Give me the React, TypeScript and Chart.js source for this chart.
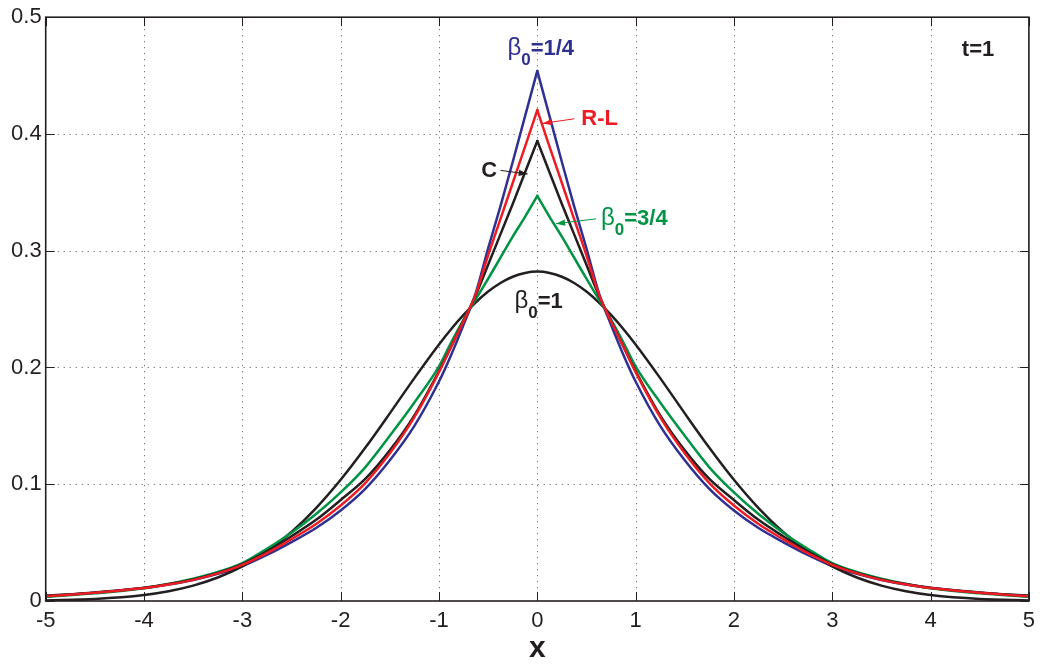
import React, { useEffect, useRef } from "react";
import { Chart, registerables } from "chart.js";

Chart.register(...registerables);

// x positions (shared by all curves)
const xValues = [-5, -4.5, -4, -3.75, -3.5, -3.25, -3, -2.75, -2.5, -2.25, -2, -1.75, -1.5, -1.25, -1, -0.875, -0.75, -0.625, -0.5, -0.375, -0.25, -0.125, 0, 0.125, 0.25, 0.375, 0.5, 0.625, 0.75, 0.875, 1, 1.25, 1.5, 1.75, 2, 2.25, 2.5, 2.75, 3, 3.25, 3.5, 3.75, 4, 4.5, 5];

// beta0 = 1/4 (blue)
const beta14 = [0.0042, 0.0071, 0.0111, 0.0141, 0.018, 0.0232, 0.03, 0.0395, 0.0505, 0.0625, 0.0775, 0.096, 0.1205, 0.15, 0.188, 0.211, 0.2365, 0.264, 0.302, 0.338, 0.376, 0.415, 0.454, 0.415, 0.376, 0.338, 0.302, 0.264, 0.2365, 0.211, 0.188, 0.15, 0.1205, 0.096, 0.0775, 0.0625, 0.0505, 0.0395, 0.03, 0.0232, 0.018, 0.0141, 0.0111, 0.0071, 0.0042];

// R-L (red)
const rl = [0.0041, 0.007, 0.0111, 0.0142, 0.0181, 0.0237, 0.031, 0.041, 0.053, 0.066, 0.0818, 0.101, 0.1265, 0.1575, 0.196, 0.218, 0.2396, 0.263, 0.296, 0.327, 0.358, 0.389, 0.4205, 0.389, 0.358, 0.327, 0.296, 0.263, 0.2396, 0.218, 0.196, 0.1575, 0.1265, 0.101, 0.0818, 0.066, 0.053, 0.041, 0.031, 0.0237, 0.0181, 0.0142, 0.0111, 0.007, 0.0041];

// C (black)
const caputo = [0.0044, 0.0073, 0.0113, 0.0145, 0.0185, 0.024, 0.0315, 0.0425, 0.0555, 0.0695, 0.0865, 0.1045, 0.129, 0.159, 0.197, 0.218, 0.24, 0.262, 0.288, 0.314, 0.34, 0.367, 0.394, 0.367, 0.34, 0.314, 0.288, 0.262, 0.24, 0.218, 0.197, 0.159, 0.129, 0.1045, 0.0865, 0.0695, 0.0555, 0.0425, 0.0315, 0.024, 0.0185, 0.0145, 0.0113, 0.0073, 0.0044];

// beta0 = 3/4 (green)
const beta34 = [0.0036, 0.0066, 0.0109, 0.0146, 0.019, 0.0248, 0.0325, 0.0448, 0.0585, 0.0745, 0.093, 0.1145, 0.1415, 0.17, 0.201, 0.2216, 0.241, 0.2585, 0.276, 0.294, 0.312, 0.329, 0.347, 0.329, 0.312, 0.294, 0.276, 0.2585, 0.241, 0.2216, 0.201, 0.17, 0.1415, 0.1145, 0.093, 0.0745, 0.0585, 0.0448, 0.0325, 0.0248, 0.019, 0.0146, 0.0109, 0.0066, 0.0036];

// beta0 = 1 (black, smooth)
const beta1 = [0.0005, 0.0018, 0.0052, 0.0084, 0.0132, 0.0201, 0.0297, 0.0426, 0.0591, 0.0796, 0.1038, 0.1312, 0.1607, 0.1909, 0.2197, 0.233, 0.245, 0.2558, 0.265, 0.2724, 0.2777, 0.281, 0.2821, 0.281, 0.2777, 0.2724, 0.265, 0.2558, 0.245, 0.233, 0.2197, 0.1909, 0.1607, 0.1312, 0.1038, 0.0796, 0.0591, 0.0426, 0.0297, 0.0201, 0.0132, 0.0084, 0.0052, 0.0018, 0.0005];

const xTicks = [-5, -4, -3, -2, -1, 0, 1, 2, 3, 4, 5];
const yTicks = [0, 0.1, 0.2, 0.3, 0.4, 0.5];

const BLUE = "#2e3192";
const RED = "#ed1c24";
const GREEN = "#009444";
const BLACK = "#231f20";
const FONT = '"Liberation Sans", Arial, Helvetica, sans-serif';

const toPts = (ys: number[]) => xValues.map((x, i) => ({ x, y: ys[i] }));
const leftHalf = (ys: number[]) => toPts(ys).filter((p) => p.x <= 0);
const rightHalf = (ys: number[]) => toPts(ys).filter((p) => p.x >= 0);

function drawBetaLabel(ctx: CanvasRenderingContext2D, x: number, y: number, rest: string, color: string) {
  ctx.fillStyle = color;
  ctx.textAlign = "left";
  ctx.textBaseline = "alphabetic";
  ctx.font = `24px ${FONT}`;
  ctx.fillText("β", x, y);
  const w1 = ctx.measureText("β").width;
  ctx.font = `bold 17px ${FONT}`;
  ctx.fillText("0", x + w1, y + 10);
  const w2 = ctx.measureText("0").width;
  ctx.font = `bold 22px ${FONT}`;
  ctx.fillText(rest, x + w1 + w2, y);
}

function drawArrow(ctx: CanvasRenderingContext2D, x1: number, y1: number, x2: number, y2: number, color: string) {
  ctx.strokeStyle = color;
  ctx.fillStyle = color;
  ctx.lineWidth = 1;
  ctx.setLineDash([]);
  ctx.beginPath();
  ctx.moveTo(x1, y1);
  ctx.lineTo(x2, y2);
  ctx.stroke();
  const ang = Math.atan2(y2 - y1, x2 - x1);
  const L = 9, W = 3.2;
  ctx.beginPath();
  ctx.moveTo(x2, y2);
  ctx.lineTo(x2 - L * Math.cos(ang) + W * Math.sin(ang), y2 - L * Math.sin(ang) - W * Math.cos(ang));
  ctx.lineTo(x2 - L * Math.cos(ang) - W * Math.sin(ang), y2 - L * Math.sin(ang) + W * Math.cos(ang));
  ctx.closePath();
  ctx.fill();
}

const matlabPlugin = {
  id: "matlabDecor",
  beforeDatasetsDraw(chart: any) {
    const { ctx, chartArea, scales } = chart;
    const { left, right, top, bottom } = chartArea;
    const xs = scales.x, ys = scales.y;
    ctx.save();
    ctx.strokeStyle = "rgba(40,40,40,0.8)";
    ctx.lineWidth = 1;
    ctx.setLineDash([1, 5]);
    xTicks.forEach((v) => {
      const px = Math.round(xs.getPixelForValue(v)) + 0.5;
      if (px < left + 2 || px > right - 2) return;
      ctx.beginPath();
      ctx.moveTo(px, top);
      ctx.lineTo(px, bottom);
      ctx.stroke();
    });
    yTicks.forEach((v) => {
      const py = Math.round(ys.getPixelForValue(v)) + 0.5;
      if (py < top + 2 || py > bottom - 2) return;
      ctx.beginPath();
      ctx.moveTo(left, py);
      ctx.lineTo(right, py);
      ctx.stroke();
    });
    ctx.restore();
  },
  afterDatasetsDraw(chart: any) {
    const { ctx, chartArea, scales } = chart;
    const { left, right, top, bottom } = chartArea;
    const xs = scales.x, ys = scales.y;
    const P = (x: number, y: number) => [xs.getPixelForValue(x), ys.getPixelForValue(y)];
    ctx.save();
    ctx.setLineDash([]);
    ctx.strokeStyle = BLACK;
    ctx.lineWidth = 1;
    const TL = 9;
    xTicks.forEach((v) => {
      const px = Math.round(xs.getPixelForValue(v)) + 0.5;
      ctx.beginPath();
      ctx.moveTo(px, bottom);
      ctx.lineTo(px, bottom - TL);
      ctx.moveTo(px, top);
      ctx.lineTo(px, top + TL);
      ctx.stroke();
    });
    yTicks.forEach((v) => {
      const py = Math.round(ys.getPixelForValue(v)) + 0.5;
      ctx.beginPath();
      ctx.moveTo(left, py);
      ctx.lineTo(left + TL, py);
      ctx.moveTo(right, py);
      ctx.lineTo(right - TL, py);
      ctx.stroke();
    });
    ctx.lineWidth = 1.6;
    ctx.strokeStyle = BLACK;
    ctx.strokeRect(left, top, right - left, bottom - top);

    let p = P(-0.304, 0.4676);
    drawBetaLabel(ctx, p[0], p[1], "=1/4", BLUE);

    p = P(0.448, 0.4078);
    ctx.fillStyle = RED;
    ctx.font = `bold 22px ${FONT}`;
    ctx.textAlign = "left";
    ctx.textBaseline = "alphabetic";
    ctx.fillText("R-L", p[0], p[1]);
    let a = P(0.377, 0.413), b = P(0.055, 0.409);
    drawArrow(ctx, a[0], a[1], b[0], b[1], RED);

    p = P(-0.571, 0.3629);
    ctx.fillStyle = BLACK;
    ctx.font = `bold 22px ${FONT}`;
    ctx.fillText("C", p[0], p[1]);
    a = P(-0.375, 0.3688); b = P(-0.0975, 0.3657);
    drawArrow(ctx, a[0], a[1], b[0], b[1], BLACK);

    p = P(0.648, 0.322);
    drawBetaLabel(ctx, p[0], p[1], "=3/4", GREEN);
    a = P(0.597, 0.3273); b = P(0.191, 0.3231);
    drawArrow(ctx, a[0], a[1], b[0], b[1], GREEN);

    p = P(-0.233, 0.2507);
    drawBetaLabel(ctx, p[0], p[1], "=1", BLACK);

    p = P(4.318, 0.4668);
    ctx.fillStyle = BLACK;
    ctx.font = `bold 22px ${FONT}`;
    ctx.textAlign = "left";
    ctx.fillText("t=1", p[0], p[1]);

    ctx.font = `bold 30px ${FONT}`;
    ctx.textAlign = "center";
    ctx.textBaseline = "alphabetic";
    ctx.fillText("x", xs.getPixelForValue(0), 657);
    ctx.restore();
  },
};

export default function App() {
  const ref = useRef<HTMLCanvasElement | null>(null);
  useEffect(() => {
    if (!ref.current) return;
    const line = (data: { x: number; y: number }[], color: string, order: number, label: string) => ({
      label,
      data,
      borderColor: color,
      backgroundColor: color,
      borderWidth: 2.5,
      pointRadius: 0,
      cubicInterpolationMode: "monotone" as const,
      borderCapStyle: "round" as const,
      fill: false,
      order,
    });
    const chart = new Chart(ref.current, {
      type: "line",
      data: {
        datasets: [
          line(leftHalf(beta14), BLUE, 5, "β0=1/4"),
          line(rightHalf(beta14), BLUE, 5, "β0=1/4"),
          line(toPts(beta1), BLACK, 4, "β0=1"),
          line(leftHalf(beta34), GREEN, 3, "β0=3/4"),
          line(rightHalf(beta34), GREEN, 3, "β0=3/4"),
          line(leftHalf(caputo), BLACK, 2, "C"),
          line(rightHalf(caputo), BLACK, 2, "C"),
          line(leftHalf(rl), RED, 1, "R-L"),
          line(rightHalf(rl), RED, 1, "R-L"),
        ],
      },
      options: {
        animation: false,
        responsive: false,
        layout: { padding: { top: 14, right: 12, left: 0, bottom: 0 } },
        plugins: { legend: { display: false }, tooltip: { enabled: false } },
        scales: {
          x: {
            type: "linear",
            min: -5,
            max: 5,
            afterFit: (s: any) => { s.height = 64; },
            afterBuildTicks: (s: any) => { s.ticks = xTicks.map((v) => ({ value: v })); },
            ticks: { color: BLACK, font: { family: FONT, size: 22 }, padding: 7, maxRotation: 0, autoSkip: false },
            grid: { display: false, drawTicks: false },
            border: { display: false },
          },
          y: {
            type: "linear",
            min: 0,
            max: 0.5,
            afterFit: (s: any) => { s.width = 45.7; },
            afterBuildTicks: (s: any) => { s.ticks = yTicks.map((v) => ({ value: v })); },
            ticks: { color: BLACK, font: { family: FONT, size: 22 }, padding: 4, callback: (v: any) => String(Math.round(Number(v) * 10) / 10) },
            grid: { display: false, drawTicks: false },
            border: { display: false },
          },
        },
      },
      plugins: [matlabPlugin],
    });
    return () => chart.destroy();
  }, []);
  return (
    <div style={{ position: "absolute", left: 0, top: 0, width: 1042, height: 665, background: "#fff" }}>
      <canvas ref={ref} width={1042} height={665} style={{ width: 1042, height: 665 }} />
    </div>
  );
}
